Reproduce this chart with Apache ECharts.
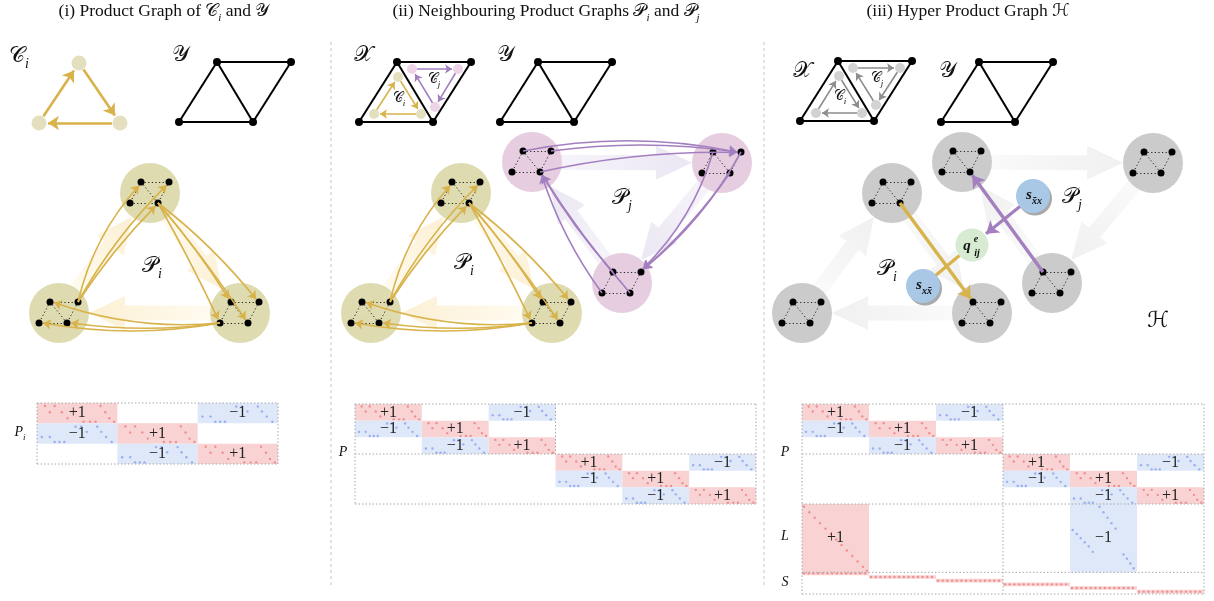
<!DOCTYPE html>
<html>
<head>
<meta charset="utf-8">
<title>Product graphs and hyper product graph</title>
<script src="https://cdn.jsdelivr.net/npm/echarts@6.0.0/dist/echarts.min.js"></script>
<style>
  html, body { margin: 0; padding: 0; background: #ffffff; }
  #chart { width: 1214px; height: 601px; }
</style>
</head>
<body>
<div id="chart"></div>
<script>
// ================= diagram content (page units, y grows downward) =================

// panel separators
const dividerX = [331, 764];
const dividerSpan = [42, 588];

// triangle mesh 𝒴 / 𝒳 : vertex offsets from its first vertex, and its edges
const meshShape = [[0, 0], [74, 0], [-38, 60], [36, 60]];
const meshEdges = [[0, 1], [0, 2], [0, 3], [1, 3], [2, 3]];
const meshOrigins = [[217, 62], [538, 62], [397, 62], [979, 62], [838, 61]];

// cycles 𝒞ᵢ and 𝒞ⱼ drawn on the small meshes
const ciNodes1 = [[79, 63], [39, 123], [120, 123]];
const ciNodes2 = [[398, 77], [374, 114], [421, 114]];
const cjNodes2 = [[412, 69], [458, 69], [435, 107]];
const ciNodes3 = [[839, 76], [816, 113], [862, 113]];
const cjNodes3 = [[853, 68], [900, 68], [876, 105]];
const ciOrder = [[1, 0], [0, 2], [2, 1]];
const cjOrder = [[0, 1], [1, 2], [2, 0]];

// product graphs: one copy of 𝒴 per cycle vertex
const miniShape = [[-9, -11], [19, -11], [-20, 10], [8, 10]];
const piCenters1 = [[150, 193], [59, 313], [240, 313]];
const piCenters2 = [[461, 193], [371, 313], [552, 313]];
const pjCenters2 = [[532, 162], [722, 163], [622, 283]];
const piCenters3 = [[892, 193], [802, 313], [982, 313]];
const pjCenters3 = [[962, 162], [1153, 163], [1052, 283]];

// product edges: [from copy, from vertex, to copy, to vertex, bend]
const piEdges = [
  [1, 1, 0, 0, 0.13], [1, 1, 0, 1, 0.07], [1, 1, 0, 3, 0.05],
  [0, 3, 2, 0, 0.04], [0, 3, 2, 1, 0.06], [0, 3, 2, 2, 0.02], [0, 3, 2, 3, 0.03],
  [2, 2, 1, 0, 0.11], [2, 2, 1, 2, 0.09], [2, 2, 1, 3, 0.07]
];
const pjEdges = [
  [0, 0, 1, 1, 0.1], [0, 1, 1, 1, 0.07], [0, 3, 1, 1, 0.06],
  [1, 0, 2, 1, 0.13], [1, 1, 2, 1, 0.1], [1, 3, 2, 1, 0.06],
  [2, 0, 0, 3, 0.05], [2, 2, 0, 3, 0.08], [2, 3, 0, 3, 0.04]
];

// hyper product graph: connection nodes q and s
const qNode = [972, 245];
const sNodes = [[923, 286], [1033, 196]];

// text labels: [x, y, rich text, style]
const labels = [
  [164, 13, '{t|(i) Product Graph of }{m|𝒞}{s|i}{t| and }{m|𝒴}', 'title'],
  [546, 13, '{t|(ii) Neighbouring Product Graphs }{m|𝒫}{s|i}{t| and }{m|𝒫}{s|j}', 'title'],
  [968, 13, '{t|(iii) Hyper Product Graph }{m|ℋ}', 'title'],
  [19, 58, '{m|𝒞}{s|i}', 'big'],
  [180, 57, '{m|𝒴}', 'big'],
  [363, 57, '{m|𝒳}', 'big'],
  [505, 57, '{m|𝒴}', 'big'],
  [802, 73, '{m|𝒳}', 'big'],
  [947, 73, '{m|𝒴}', 'big'],
  [399, 100, '{m|𝒞}{s|i}', 'small'],
  [434, 81, '{m|𝒞}{s|j}', 'small'],
  [840, 98, '{m|𝒞}{s|i}', 'small'],
  [877, 80, '{m|𝒞}{s|j}', 'small'],
  [152, 268, '{m|𝒫}{s|i}', 'big'],
  [464, 265, '{m|𝒫}{s|i}', 'big'],
  [622, 200, '{m|𝒫}{s|j}', 'big'],
  [887, 271, '{m|𝒫}{s|i}', 'big'],
  [1072, 199, '{m|𝒫}{s|j}', 'big'],
  [1158, 323, '{m|ℋ}', 'big'],
  [924, 287, '{b|s}{sb|xx\u0304}', 'node'],
  [1034, 197, '{b|s}{sb|x\u0304x}', 'node'],
  [967, 248, '{b|q}', 'node'],
  [976, 239, '{sb|e}', 'node'],
  [977, 253, '{sb|ij}', 'node'],
  [20, 434, '{i|P}{s|i}', 'row'],
  [343, 454, '{i|P}', 'row'],
  [785, 454, '{i|P}', 'row'],
  [785, 538, '{i|L}', 'row'],
  [785, 584, '{i|S}', 'row']
];

// ================= incidence matrices (matrix units: columns, rows) =================
// one 3x3 block of the cycle incidence: [column, row, value]
const blockCells = [[0, 0, 1], [2, 0, -1], [0, 1, -1], [1, 1, 1], [1, 2, -1], [2, 2, 1]];
// L block of the hyper graph: [column, value]
const lCells = [[0, 1], [4, -1]];
const lBand = [6, 4.1];
// S staircase: [column, top row]
const sStripes = [[0, 10.05], [1, 10.27], [2, 10.49], [3, 10.71], [4, 10.93], [5, 11.15]];
const sHeight = 0.22;

// sparsity dots drawn inside the blocks (fractions of a block)
const dotsPlus = [[0.1, 0.15], [0.22, 0.15], [0.16, 0.45], [0.31, 0.45], [0.38, 0.75], [0.58, 0.92], [0.66, 0.92], [0.73, 0.92], [0.79, 0.15], [0.85, 0.45], [0.9, 0.75], [0.96, 0.92]];
const dotsMinus = [[0.06, 0.67], [0.16, 0.67], [0.22, 0.92], [0.28, 0.92], [0.34, 0.92], [0.48, 0.17], [0.55, 0.17], [0.62, 0.42], [0.75, 0.17], [0.8, 0.42], [0.86, 0.67], [0.93, 0.92]];
const dotsDiag = [[0.03, 0.04], [0.11, 0.12], [0.19, 0.2], [0.27, 0.28], [0.35, 0.36], [0.43, 0.44], [0.51, 0.52], [0.59, 0.6], [0.67, 0.68], [0.75, 0.76], [0.83, 0.84], [0.91, 0.92], [0.97, 0.98]];
const dotsSplitDiag = [[0.04, 0.38], [0.1, 0.44], [0.16, 0.5], [0.22, 0.56], [0.28, 0.62], [0.34, 0.7], [0.44, 0.04], [0.5, 0.12], [0.56, 0.2], [0.62, 0.28], [0.68, 0.36], [0.8, 0.74], [0.85, 0.8], [0.9, 0.87], [0.95, 0.94]];
const dotsRow = [[0.03, 0.5], [0.1, 0.5], [0.17, 0.5], [0.24, 0.5], [0.31, 0.5], [0.38, 0.5], [0.45, 0.5], [0.52, 0.5], [0.59, 0.5], [0.66, 0.5], [0.73, 0.5], [0.8, 0.5], [0.87, 0.5], [0.94, 0.5]];
const dotPatterns = [dotsPlus, dotsMinus, dotsDiag, dotsSplitDiag, dotsRow];

// dotted frame lines per matrix: [x1, y1, x2, y2]
const frameM1 = [[0, 0, 3, 0], [0, 3, 3, 3], [0, 0, 0, 3], [3, 0, 3, 3]];
const frameM2 = [[0, 0, 6, 0], [0, 3, 6, 3], [0, 6, 6, 6], [0, 0, 0, 6], [6, 0, 6, 6], [3, 0, 3, 3]];
const frameM3 = [[0, 0, 6, 0], [0, 3, 6, 3], [0, 6, 6, 6], [0, 10.1, 6, 10.1], [0, 11.4, 6, 11.4], [0, 0, 0, 11.4], [6, 0, 6, 11.4], [3, 0, 3, 11.4]];

// ================= styles =================
const SERIF = "'Liberation Serif', 'DejaVu Serif', serif";
const MATH = "'DejaVu Serif', 'DejaVu Sans', 'Noto Sans', serif";
const INK = '#111111';
const GOLD = '#d8b24a';
const PURPLE = '#a47fc0';
const KHAKI = '#dfdbb1';
const PINK = '#e6cee0';
const GREY = '#cbcbcb';
const RED_FILL = '#f9d3d3', BLUE_FILL = '#dee8f9';
const RED_DOT = 'rgba(236,120,120,0.75)', BLUE_DOT = 'rgba(130,155,238,0.75)';
const labelSizes = { title: 17.5, big: 22, small: 14, node: 15, row: 14 };

// ================= helpers =================
const add = (a, b) => [a[0] + b[0], a[1] + b[1]];
function pull(p, q, d) {
  const dx = q[0] - p[0], dy = q[1] - p[1], L = Math.hypot(dx, dy);
  return [q[0] - dx / L * d, q[1] - dy / L * d];
}
function richFor(size) {
  const lift = Math.round(size * 0.2);
  const main = { fontFamily: SERIF, fontSize: size, fill: INK, verticalAlign: 'bottom', padding: [0, 0, lift, 0] };
  const sub = { fontFamily: SERIF, fontStyle: 'italic', fontSize: Math.round(size * 0.64), fill: INK, verticalAlign: 'bottom' };
  return {
    t: main,
    m: Object.assign({}, main, { fontFamily: MATH }),
    i: Object.assign({}, main, { fontStyle: 'italic' }),
    b: Object.assign({}, main, { fontStyle: 'italic', fontWeight: 'bold' }),
    s: sub,
    sb: Object.assign({}, sub, { fontWeight: 'bold' })
  };
}

// ---- derived drawing data ----
const meshLines = [], meshDots = [];
meshOrigins.forEach(o => {
  const v = meshShape.map(s => add(o, s));
  meshEdges.forEach(([a, b]) => meshLines.push({ coords: [v[a], v[b]] }));
  v.forEach(p => meshDots.push(p));
});

const copyGroups = [
  [piCenters1, KHAKI], [piCenters2, KHAKI], [pjCenters2, PINK], [piCenters3, GREY], [pjCenters3, GREY]
];
const copyCircles = [], miniLines = [], miniDots = [];
copyGroups.forEach(([centers, color]) => centers.forEach(c => {
  copyCircles.push({ value: c, itemStyle: { color, opacity: 1 } });
  const v = miniShape.map(s => add(c, s));
  meshEdges.forEach(([a, b]) => miniLines.push({ coords: [v[a], v[b]] }));
  v.forEach(p => miniDots.push(p));
}));

// wide pale arrows showing the cycle order between copies: [tail rgb, head rgb]
const paleYellow = ['255,251,240', '252,240,212'];
const palePurple = ['246,244,250', '235,231,243'];
const paleGrey = ['250,250,250', '240,240,240'];
const faint = [];
[[piCenters1, ciOrder, paleYellow], [piCenters2, ciOrder, paleYellow], [pjCenters2, cjOrder, palePurple],
 [piCenters3, ciOrder, paleGrey], [pjCenters3, cjOrder, paleGrey]].forEach(([centers, order, color]) => {
  order.forEach(([a, b]) => faint.push({ value: [centers[a][0], centers[a][1], centers[b][0], centers[b][1]], color }));
});

function productLines(centers, edges) {
  return edges.map(([a, da, b, db, bend]) => {
    const p = add(centers[a], miniShape[da]);
    const q = add(centers[b], miniShape[db]);
    return { coords: [p, pull(p, q, 4)], lineStyle: { curveness: bend } };
  });
}
const goldEdges = productLines(piCenters1, piEdges).concat(productLines(piCenters2, piEdges));
const purpleEdges = productLines(pjCenters2, pjEdges);

function cycleArrows(nodes, order, gap, color) {
  return order.map(([a, b]) => {
    const p = nodes[a], q = nodes[b];
    return { coords: [pull(q, p, gap), pull(p, q, gap + 1)], lineStyle: { color } };
  });
}
const cycleNodeData = [];
[[ciNodes1, '#e4e0bf'], [ciNodes2, '#e4e0bf'], [cjNodes2, '#ecd3e6'], [ciNodes3, '#d2d2d2'], [cjNodes3, '#d2d2d2']]
  .forEach(([nodes, color], gi) => nodes.forEach(p => cycleNodeData.push({ value: p, symbolSize: gi === 0 ? 15 : 10, itemStyle: { color, opacity: 1 } })));

// hyper graph arrows between copies of 𝒫ᵢ and 𝒫ⱼ
const hyperGold = [add(piCenters3[0], miniShape[3]), add(piCenters3[2], miniShape[0])];
const hyperPurple = [add(pjCenters3[2], miniShape[0]), add(pjCenters3[0], miniShape[3])];

// matrix cells: [col, row, width, height, value, dot pattern, labelled]
const cellsM1 = blockCells.map(([c, r, v]) => [c, r, 1, 1, v, v > 0 ? 0 : 1, 1]);
const cellsM2 = [];
[0, 3].forEach(o => blockCells.forEach(([c, r, v]) => cellsM2.push([c + o, r + o, 1, 1, v, v > 0 ? 0 : 1, 1])));
const cellsM3 = cellsM2.slice();
lCells.forEach(([c, v]) => cellsM3.push([c, lBand[0], 1, lBand[1], v, v > 0 ? 2 : 3, 1]));
sStripes.forEach(([c, r]) => cellsM3.push([c, r, 1, sHeight, 1, 4, 0]));

// ================= renderers =================
function renderCell(params, api) {
  const c = api.value(0), r = api.value(1), w = api.value(2), h = api.value(3);
  const pos = api.value(4) > 0, pat = dotPatterns[api.value(5)], labelled = api.value(6) === 1;
  const p0 = api.coord([c, r]), p1 = api.coord([c + w, r + h]);
  const x = p0[0], y = p0[1], W = p1[0] - p0[0], H = p1[1] - p0[1];
  const children = [{ type: 'rect', shape: { x, y, width: W, height: H }, style: { fill: pos ? RED_FILL : BLUE_FILL } }];
  pat.forEach(([fx, fy]) => children.push({
    type: 'circle', shape: { cx: x + fx * W, cy: y + fy * H, r: 1.2 }, style: { fill: pos ? RED_DOT : BLUE_DOT }
  }));
  if (labelled) {
    children.push({
      type: 'text', x: x + W / 2, y: y + H / 2,
      style: { text: pos ? '+1' : '\u22121', font: '16px ' + SERIF, fill: '#222', align: 'center', verticalAlign: 'middle' }
    });
  }
  return { type: 'group', children };
}
function renderSegment(stroke, dash) {
  return function (params, api) {
    const a = api.coord([api.value(0), api.value(1)]), b = api.coord([api.value(2), api.value(3)]);
    return { type: 'line', shape: { x1: a[0], y1: a[1], x2: b[0], y2: b[1] }, style: { stroke, lineWidth: 1, lineDash: dash } };
  };
}
function renderFaint(params, api) {
  const a = api.coord([api.value(0), api.value(1)]), b = api.coord([api.value(2), api.value(3)]);
  const dx = b[0] - a[0], dy = b[1] - a[1], L = Math.hypot(dx, dy);
  const ux = dx / L, uy = dy / L, nx = -uy, ny = ux;
  const s = [a[0] + ux * 27, a[1] + uy * 27];
  const t = [b[0] - ux * 30, b[1] - uy * 30];
  const base = [t[0] - ux * 36, t[1] - uy * 36];
  const w = 7.5, hw = 17;
  const pts = [
    [s[0] + nx * w, s[1] + ny * w], [base[0] + nx * w, base[1] + ny * w], [base[0] + nx * hw, base[1] + ny * hw],
    t, [base[0] - nx * hw, base[1] - ny * hw], [base[0] - nx * w, base[1] - ny * w], [s[0] - nx * w, s[1] - ny * w]
  ];
  const col = faint[params.dataIndex].color;
  const fill = new echarts.graphic.LinearGradient(s[0], s[1], t[0], t[1], [
    { offset: 0, color: 'rgb(' + col[0] + ')' }, { offset: 1, color: 'rgb(' + col[1] + ')' }
  ], true);
  return { type: 'polygon', shape: { points: pts }, style: { fill } };
}
function renderHyperNode(params, api) {
  const p = api.coord([api.value(0), api.value(1)]);
  const isQ = params.dataIndex === 0;
  const children = [];
  if (!isQ) children.push({ type: 'circle', shape: { cx: p[0] + 2, cy: p[1] + 2.5, r: 17 }, style: { fill: '#a9a9a9' } });
  children.push({ type: 'circle', shape: { cx: p[0], cy: p[1], r: isQ ? 16.5 : 17 }, style: { fill: isQ ? '#d6ebd1' : '#a8c8e5' } });
  return { type: 'group', children };
}
function renderLabel(params, api) {
  const d = labels[params.dataIndex];
  const p = api.coord([d[0], d[1]]);
  return {
    type: 'text', x: p[0], y: p[1],
    style: { text: d[2], rich: richFor(labelSizes[d[3]]), fill: INK, align: 'center', verticalAlign: 'middle' }
  };
}

// ================= chart =================
const hidden = { show: false, splitLine: { show: false } };
const onPage = { xAxisIndex: 0, yAxisIndex: 0, coordinateSystem: 'cartesian2d', silent: true };
let zi = 1;
const S = o => Object.assign({ z: zi++, silent: true }, o);
const solidDots = { color: '#000', opacity: 1 };

const option = {
  animation: false,
  backgroundColor: '#ffffff',
  grid: [
    { left: 0, top: 0, width: 1214, height: 601 },
    { left: 37, top: 403, width: 241, height: 61 },
    { left: 355, top: 404, width: 401, height: 100 },
    { left: 802, top: 404, width: 402, height: 190 }
  ],
  xAxis: [
    Object.assign({ gridIndex: 0, type: 'value', min: 0, max: 1214 }, hidden),
    Object.assign({ gridIndex: 1, type: 'value', min: 0, max: 3 }, hidden),
    Object.assign({ gridIndex: 2, type: 'value', min: 0, max: 6 }, hidden),
    Object.assign({ gridIndex: 3, type: 'value', min: 0, max: 6 }, hidden)
  ],
  yAxis: [
    Object.assign({ gridIndex: 0, type: 'value', min: 0, max: 601, inverse: true }, hidden),
    Object.assign({ gridIndex: 1, type: 'value', min: 0, max: 3, inverse: true }, hidden),
    Object.assign({ gridIndex: 2, type: 'value', min: 0, max: 6, inverse: true }, hidden),
    Object.assign({ gridIndex: 3, type: 'value', min: 0, max: 11.4, inverse: true }, hidden)
  ],
  series: [
    S(Object.assign({ type: 'custom', name: 'dividers', data: dividerX.map(x => [x, dividerSpan[0], x, dividerSpan[1]]), renderItem: renderSegment('#c6c6c6', [3, 3]) }, onPage)),
    S(Object.assign({ type: 'custom', name: 'cycle order', data: faint.map(f => f.value), renderItem: renderFaint }, onPage)),
    S(Object.assign({ type: 'scatter', name: 'copies', symbol: 'circle', symbolSize: 60, data: copyCircles }, onPage)),
    S(Object.assign({ type: 'lines', name: 'copy edges', data: miniLines, lineStyle: { color: '#222', width: 1, type: [1.2, 2.4], opacity: 1 } }, onPage)),
    S(Object.assign({ type: 'scatter', name: 'copy vertices', symbolSize: 7, itemStyle: solidDots, data: miniDots }, onPage)),
    S(Object.assign({ type: 'lines', name: 'P_i edges', data: goldEdges, symbol: ['none', 'arrow'], symbolSize: 8, lineStyle: { color: GOLD, width: 1.6, opacity: 1 } }, onPage)),
    S(Object.assign({ type: 'lines', name: 'P_j edges', data: purpleEdges, symbol: ['none', 'arrow'], symbolSize: 8, lineStyle: { color: PURPLE, width: 1.6, opacity: 1 } }, onPage)),
    S(Object.assign({ type: 'lines', name: 'mesh edges', data: meshLines, lineStyle: { color: '#000', width: 2, opacity: 1 } }, onPage)),
    S(Object.assign({ type: 'scatter', name: 'mesh vertices', symbolSize: 8, itemStyle: solidDots, data: meshDots }, onPage)),
    S(Object.assign({ type: 'scatter', name: 'cycle vertices', data: cycleNodeData }, onPage)),
    S(Object.assign({ type: 'lines', name: 'C_i', data: cycleArrows(ciNodes1, ciOrder, 8, GOLD), symbol: ['none', 'arrow'], symbolSize: 11, lineStyle: { width: 2.6, opacity: 1 } }, onPage)),
    S(Object.assign({
      type: 'lines', name: 'C_i C_j small',
      data: cycleArrows(ciNodes2, ciOrder, 5, GOLD).concat(cycleArrows(cjNodes2, cjOrder, 5, PURPLE), cycleArrows(ciNodes3, ciOrder, 5, '#8c8c8c'), cycleArrows(cjNodes3, cjOrder, 5, '#8c8c8c')),
      symbol: ['none', 'arrow'], symbolSize: 7, lineStyle: { width: 1.6, opacity: 1 }
    }, onPage)),
    S(Object.assign({ type: 'lines', name: 'hyper P_i', data: [{ coords: [hyperGold[0], pull(hyperGold[0], hyperGold[1], 4)] }], symbol: ['none', 'arrow'], symbolSize: 12, lineStyle: { color: GOLD, width: 3.4, opacity: 1 } }, onPage)),
    S(Object.assign({ type: 'lines', name: 'hyper P_j', data: [{ coords: [hyperPurple[0], pull(hyperPurple[0], hyperPurple[1], 4)] }], symbol: ['none', 'arrow'], symbolSize: 12, lineStyle: { color: PURPLE, width: 3.4, opacity: 1 } }, onPage)),
    S(Object.assign({ type: 'lines', name: 's to q gold', data: [{ coords: [pull(qNode, sNodes[0], 16), pull(sNodes[0], qNode, 16)] }], lineStyle: { color: GOLD, width: 3.2, opacity: 1 } }, onPage)),
    S(Object.assign({ type: 'lines', name: 's to q purple', data: [{ coords: [pull(qNode, sNodes[1], 16), pull(sNodes[1], qNode, 18)] }], symbol: ['none', 'arrow'], symbolSize: 12, lineStyle: { color: PURPLE, width: 3.2, opacity: 1 } }, onPage)),
    S(Object.assign({ type: 'custom', name: 'hyper nodes', data: [qNode].concat(sNodes), renderItem: renderHyperNode }, onPage)),
    S({ type: 'custom', name: 'M1 cells', xAxisIndex: 1, yAxisIndex: 1, data: cellsM1, renderItem: renderCell }),
    S({ type: 'custom', name: 'M2 cells', xAxisIndex: 2, yAxisIndex: 2, data: cellsM2, renderItem: renderCell }),
    S({ type: 'custom', name: 'M3 cells', xAxisIndex: 3, yAxisIndex: 3, data: cellsM3, renderItem: renderCell }),
    S({ type: 'custom', name: 'M1 frame', xAxisIndex: 1, yAxisIndex: 1, data: frameM1, renderItem: renderSegment('#a8a8a8', [1.5, 2]) }),
    S({ type: 'custom', name: 'M2 frame', xAxisIndex: 2, yAxisIndex: 2, data: frameM2, renderItem: renderSegment('#a8a8a8', [1.5, 2]) }),
    S({ type: 'custom', name: 'M3 frame', xAxisIndex: 3, yAxisIndex: 3, data: frameM3, renderItem: renderSegment('#a8a8a8', [1.5, 2]) }),
    S(Object.assign({ type: 'custom', name: 'labels', data: labels.map(l => [l[0], l[1]]), renderItem: renderLabel }, onPage))
  ]
};

const chart = echarts.init(document.getElementById('chart'), null, { renderer: 'canvas' });
chart.setOption(option);
</script>
</body>
</html>
